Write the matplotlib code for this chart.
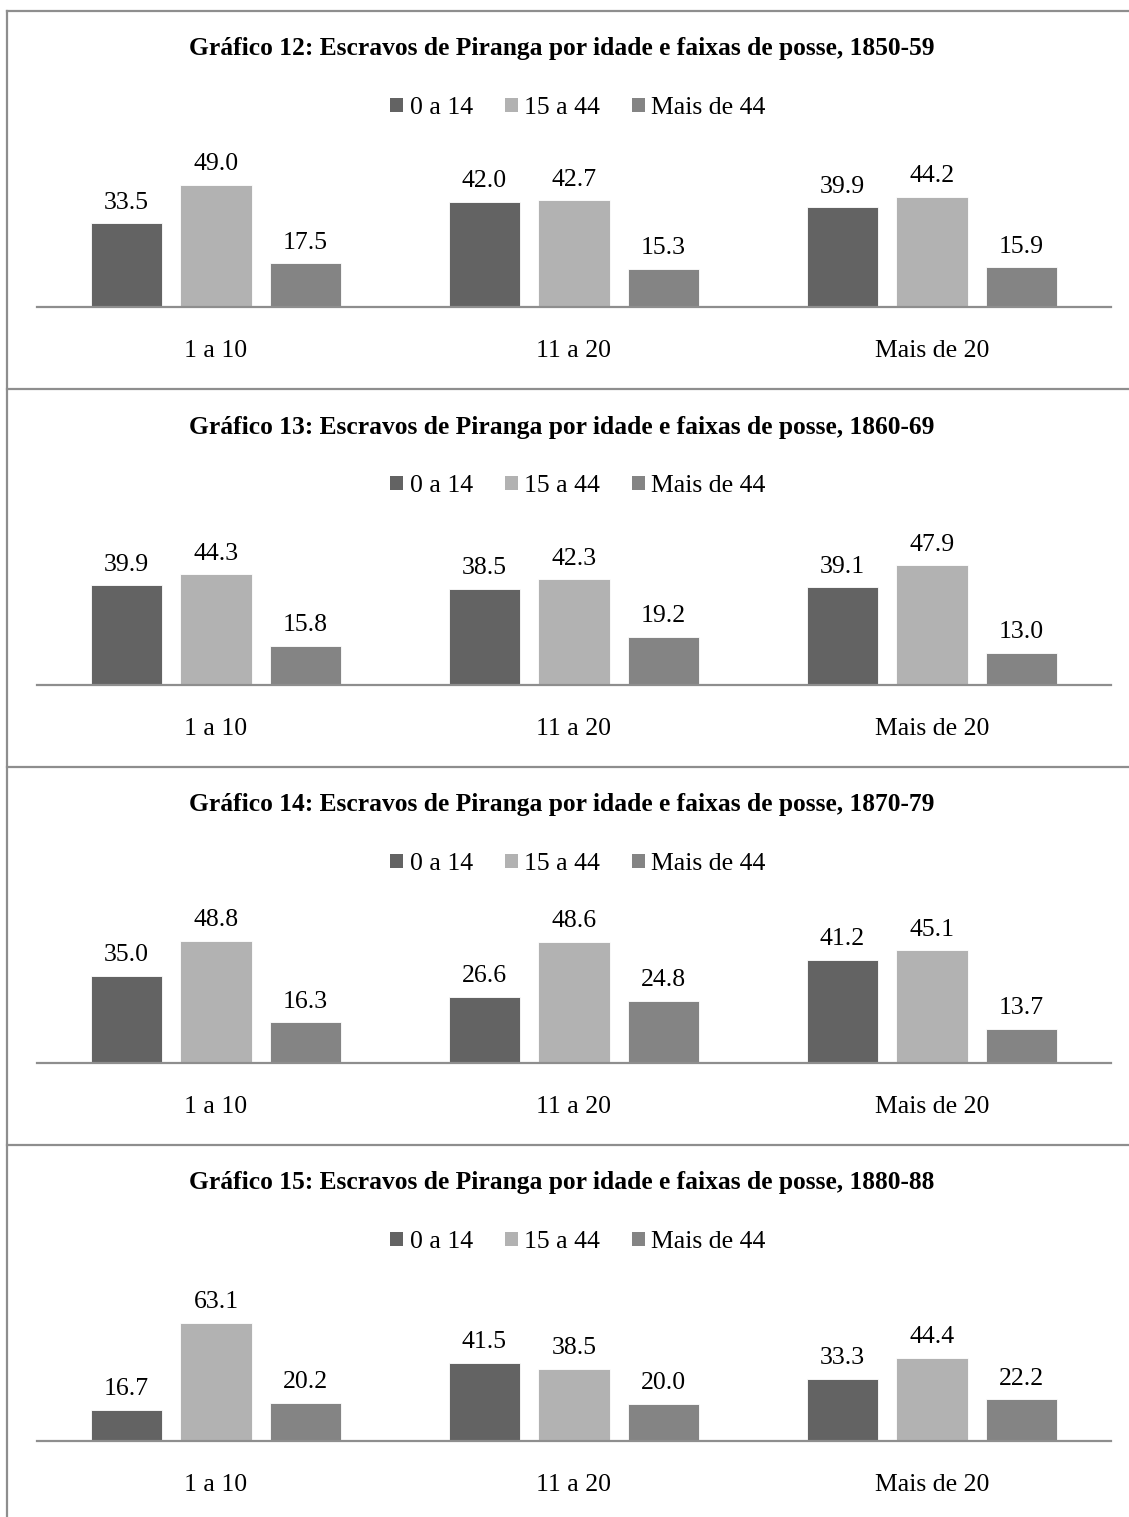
import matplotlib
matplotlib.use("Agg")
import matplotlib.pyplot as plt
from matplotlib.lines import Line2D
from matplotlib.patches import Patch
import numpy as np

# data
chart_numbers = [12, 13, 14, 15]
periods = ["1850-59", "1860-69", "1870-79", "1880-88"]
categories = ["1 a 10", "11 a 20", "Mais de 20"]
series_names = ["0 a 14", "15 a 44", "Mais de 44"]
age_0_14 = [[33.5, 42.0, 39.9], [39.9, 38.5, 39.1], [35.0, 26.6, 41.2], [16.7, 41.5, 33.3]]
age_15_44 = [[49.0, 42.7, 44.2], [44.3, 42.3, 47.9], [48.8, 48.6, 45.1], [63.1, 38.5, 44.4]]
age_45_plus = [[17.5, 15.3, 15.9], [15.8, 19.2, 13.0], [16.3, 24.8, 13.7], [20.2, 20.0, 22.2]]
y_max = [60, 60, 60, 80]

colors = ["#636363", "#b2b2b2", "#848484"]
line_gray = "#8e8e8e"

plt.rcParams["font.family"] = ["Liberation Serif", "DejaVu Serif"]

W, H, DPI = 1129, 1517, 100
fig = plt.figure(figsize=(W / DPI, H / DPI), dpi=DPI)


def fx(px):
    return px / W


def fy(py):
    return 1 - py / H


# outer frame and separators
fig.add_artist(Line2D([fx(7), fx(7)], [fy(11), fy(H)], color=line_gray, lw=1.6))
for i in range(4):
    top = 11 + i * 378
    fig.add_artist(Line2D([fx(7), 1], [fy(top), fy(top)], color=line_gray, lw=1.6))

x = np.arange(len(categories))
offsets = [-0.25, 0, 0.25]
ax_left, ax_right = 37, 1111

for i in range(4):
    top = 11 + i * 378
    base = top + 296
    ax = fig.add_axes([fx(ax_left), fy(base), fx(ax_right - ax_left), 150 / H])
    groups = [age_0_14[i], age_15_44[i], age_45_plus[i]]
    for j, vals in enumerate(groups):
        bars = ax.bar(x + offsets[j], vals, width=0.2, color=colors[j], edgecolor="white", linewidth=0.6, zorder=2)
        for b, v in zip(bars, vals):
            ax.annotate(f"{v:.1f}", (b.get_x() + b.get_width() / 2, v), xytext=(0, 7),
                        textcoords="offset points", ha="center", va="bottom", fontsize=18.5)
    ax.set_xlim(-0.5, 2.5)
    ax.set_ylim(0, y_max[i])
    ax.set_xticks(x)
    ax.set_xticklabels(categories, fontsize=18.5)
    ax.tick_params(axis="x", length=0, pad=24)
    ax.set_yticks([])
    for s in ["top", "left", "right"]:
        ax.spines[s].set_visible(False)
    ax.spines["bottom"].set_color(line_gray)
    ax.spines["bottom"].set_linewidth(1.6)
    ax.spines["bottom"].set_zorder(3)
    ax.patch.set_alpha(0)

    fig.text(fx(562), fy(top + 38),
             f"Gráfico {chart_numbers[i]}: Escravos de Piranga por idade e faixas de posse, {periods[i]}",
             ha="center", va="center", fontsize=18.4, fontweight="bold")

    handles = [Patch(facecolor=c, edgecolor="none") for c in colors]
    fig.legend(handles, series_names, loc="center", bbox_to_anchor=(fx(578), fy(top + 97)),
               ncol=3, frameon=False, fontsize=18.5, handlelength=0.5, handleheight=0.5,
               handletextpad=0.25, columnspacing=1.25, borderpad=0)

fig.savefig("out.png", dpi=DPI)
